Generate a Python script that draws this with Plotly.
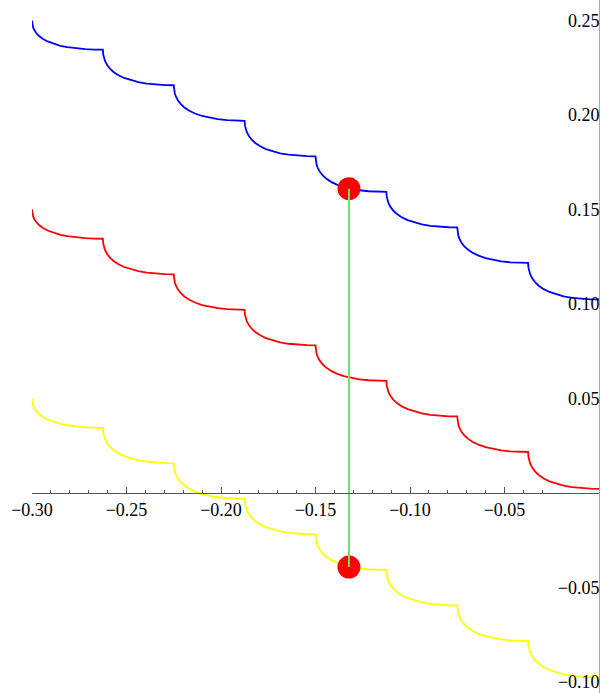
import numpy as np
import plotly.graph_objects as go

# Segment boundaries along x
seg_x = [-0.3, -0.2625, -0.225, -0.1875, -0.15, -0.1125, -0.075, -0.0375, 0.0]

# Level of each curve at the segment boundaries (start of first, then ends of each segment)
blue_levels = [0.250, 0.2345, 0.2157, 0.1969, 0.1781, 0.1593, 0.1405, 0.1217, 0.1024]
red_levels = [0.150, 0.1345, 0.1157, 0.0969, 0.0781, 0.0593, 0.0405, 0.0217, 0.0022]
yellow_levels = [0.050, 0.0345, 0.0157, -0.0031, -0.0219, -0.0407, -0.0595, -0.0783, -0.0976]

# Shape of one scallop (fraction across the segment, fraction of the drop)
profile_t = [0.0, 0.005, 0.015, 0.03, 0.06, 0.10, 0.15, 0.22, 0.30, 0.40, 0.50, 0.62, 0.75, 0.88, 1.0]
profile_drop = [0.0, 0.136, 0.230, 0.316, 0.430, 0.532, 0.625, 0.718, 0.795, 0.865, 0.914, 0.955, 0.982, 0.996, 1.0]

# Marked points and connector
dot_x = [-0.1323, -0.1323]
dot_y = [0.1610, -0.0392]

x_ticks = [-0.30, -0.25, -0.20, -0.15, -0.10, -0.05]
y_ticks = [-0.10, -0.05, 0.05, 0.10, 0.15, 0.20, 0.25]


def build(levels):
    t = np.array(profile_t)
    d = np.array(profile_drop)
    xs, ys = [], []
    for k in range(len(seg_x) - 1):
        x0, x1 = seg_x[k], seg_x[k + 1]
        top, bot = levels[k], levels[k + 1]
        sx = x0 + t * (x1 - x0)
        sy = top - d * (top - bot)
        if k > 0:
            sx, sy = sx[1:], sy[1:]
        xs.extend(sx.tolist())
        ys.extend(sy.tolist())
    return xs, ys


fig = go.Figure()
for levels, color in [(blue_levels, "#0000ff"), (red_levels, "#ff0000"), (yellow_levels, "#ffff00")]:
    xs, ys = build(levels)
    fig.add_trace(go.Scatter(x=xs, y=ys, mode="lines", line=dict(color=color, width=1.8),
                             hoverinfo="skip", showlegend=False))

fig.add_trace(go.Scatter(x=dot_x, y=dot_y, mode="markers",
                         marker=dict(color="#ff0000", size=23, line=dict(width=0)),
                         showlegend=False))
fig.add_trace(go.Scatter(x=dot_x, y=dot_y, mode="lines",
                         line=dict(color="#66e466", width=2), showlegend=False))

y_lo, y_hi = -0.1058, 0.2608
font = dict(family="Liberation Serif", size=18, color="black")

fig.update_layout(
    width=600, height=693,
    margin=dict(l=32, r=1, t=0, b=0),
    plot_bgcolor="white", paper_bgcolor="white",
    showlegend=False,
    xaxis=dict(
        range=[-0.3, 0.0], showgrid=False, zeroline=False,
        anchor="free", position=(0 - y_lo) / (y_hi - y_lo),
        showline=True, linecolor="#555555", linewidth=1,
        ticks="inside", ticklen=6, tickcolor="#555555", tickwidth=1,
        tickvals=x_ticks, tickformat=".2f", tickfont=font,
        minor=dict(ticks="inside", ticklen=3.5, dtick=0.01, tick0=0,
                   tickcolor="#555555", showgrid=False),
    ),
    yaxis=dict(
        range=[y_lo, y_hi], showgrid=False, zeroline=False,
        side="right", ticklabelposition="inside",
        showline=True, linecolor="#aaaaaa", linewidth=1,
        ticks="", tickvals=y_ticks, tickformat=".2f", tickfont=font,
    ),
)

fig.write_html("out.html")
